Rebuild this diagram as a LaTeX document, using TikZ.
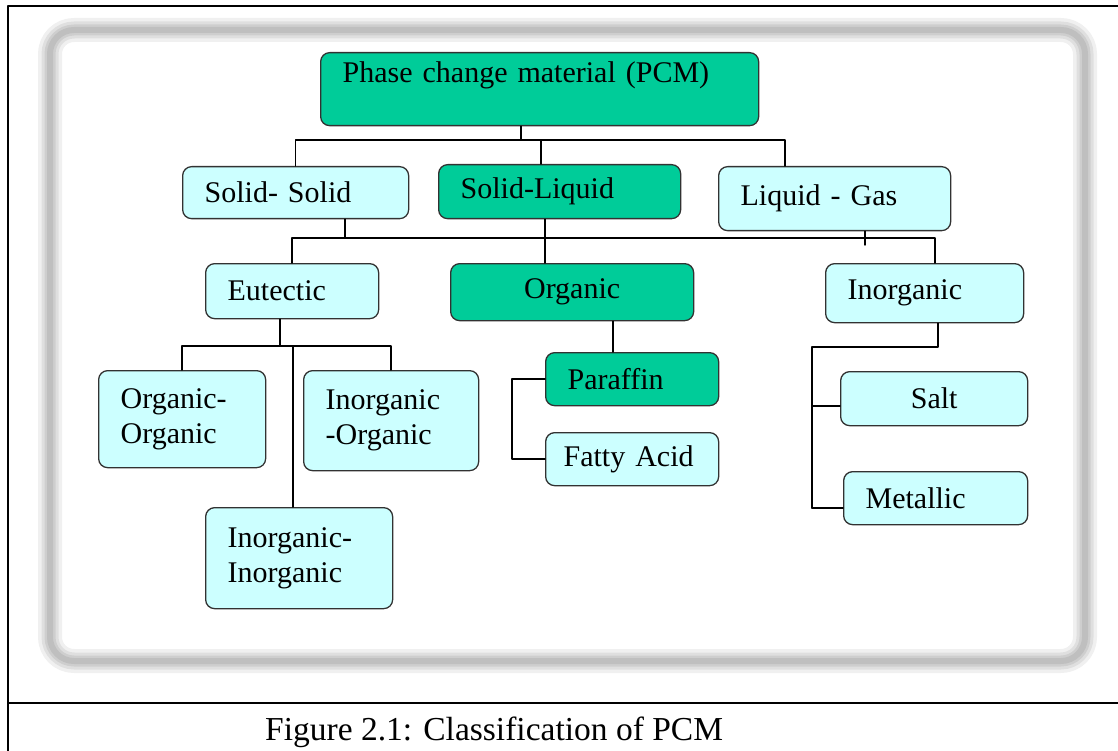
\documentclass[tikz,border=0pt]{standalone}
\usepackage{fontspec}
\setmainfont{Liberation Serif}
\usepackage{pgf,tikz}
\definecolor{pcmteal}{RGB}{0,204,153}
\definecolor{pcmcyan}{RGB}{204,255,255}
\definecolor{boxedge}{RGB}{50,50,50}

\begin{document}
\begin{tikzpicture}[line cap=round,line join=round,x=1pt,y=-1pt,
    box/.style={draw=boxedge,line width=1.3pt,rounded corners=9pt,anchor=north west,
      inner xsep=22pt,inner ysep=0pt,align=left,font=\fontsize{30}{35}\selectfont},
    dark/.style={box,fill=pcmteal},
    light/.style={box,fill=pcmcyan},
    link/.style={line width=1.5pt,black}]
  \useasboundingbox (0,0) rectangle (1118,751);

  % table frame and caption row
  \draw[line width=2pt] (8,751) -- (8,6) -- (1118,6);
  \draw[line width=2pt] (8,703) -- (1118,703);
  \node[anchor=west,inner sep=0pt,font=\fontsize{33.5}{40}\selectfont] (caption) at (265,732) {Figure 2.1: Classification of PCM};

  % soft shadow frame
  \foreach \w/\o in {24/0.12,17/0.15,11/0.18,6/0.2}{
    \draw[gray,line width=\w,opacity=\o,rounded corners=24pt] (50,30) rectangle (1085,661);
  }

  % boxes
  \node[dark,text width=394pt,text height=26pt,text depth=39pt,inner ysep=4pt] (pcm) at (320,52) {Phase change material (PCM)};

  \node[light,text width=182pt,minimum height=52pt] (ss) at (182,166) {Solid- Solid};
  \node[dark,text width=198pt,minimum height=54pt] (sl) at (438,164) {Solid-Liquid};
  \node[light,text width=188pt,minimum height=64pt] (lg) at (718,166) {Liquid - Gas};

  \node[light,text width=129pt,minimum height=55pt] (eut) at (205,263) {Eutectic};
  \node[dark,text width=199pt,minimum height=57pt,align=center] (org) at (450,263) {Organic};
  \node[light,text width=154pt,minimum height=59pt] (inorg) at (825,263) {Inorganic};

  \node[light,text width=123pt,minimum height=97pt] (oo) at (98,370) {Organic-\\Organic};
  \node[light,text width=131pt,minimum height=100pt] (io) at (303,370) {Inorganic\\-Organic};
  \node[light,text width=143pt,minimum height=101pt] (ii) at (205,507) {Inorganic-\\Inorganic};

  \node[dark,text width=129pt,minimum height=53pt] (par) at (545,352) {Paraffin};
  \node[light,text width=137pt,inner xsep=18pt,minimum height=53pt] (fa) at (545,432) {Fatty Acid};

  \node[light,text width=143pt,minimum height=54pt,align=center] (salt) at (840,371) {Salt};
  \node[light,text width=140pt,minimum height=53pt] (met) at (843,471) {Metallic};

  % bus points
  \coordinate (b1) at (521,140);
  \coordinate (b1m) at (541,140);
  \coordinate (b1r) at (785,140);
  \coordinate (b2s) at (345,238);
  \coordinate (b2m) at (545,238);
  \coordinate (b2r) at (935,238);
  \coordinate (gtick) at (865,245);
  \coordinate (b3) at (280,346);
  \coordinate (b3i) at (293,346);
  \coordinate (b4) at (613,336);
  \coordinate (b5) at (512,380);
  \coordinate (b6) at (938,347);
  \coordinate (b6l) at (812,347);
  \coordinate (b6s) at (812,406);
  \coordinate (b6m) at (812,508);

  % connectors
  \draw[link] (b1 |- pcm.south) -- (b1);
  \draw[link] (ss.north) |- (b1r) -- (b1r |- lg.north);
  \draw[link] (b1m) -- (b1m |- sl.north);

  \draw[link] (b2s |- ss.south) -- (b2s);
  \draw[link] (b2m |- sl.south) -- (b2m |- org.north);
  \draw[link] (gtick |- lg.south) -- (gtick);
  \draw[link] (eut.north) |- (b2r) -- (b2r |- inorg.north);

  \draw[link] (b3 |- eut.south) -- (b3);
  \draw[link] (oo.north) |- (b3) -| (io.north);
  \draw[link] (b3i) -- (b3i |- ii.north);

  \draw[link] (b4 |- org.south) -- (b4 |- par.north);
  \draw[link] (par.west) -- (b5 |- par.west) |- (fa.west);

  \draw[link] (b6 |- inorg.south) -- (b6) -- (b6l) -- (b6m);
  \draw[link] (b6s) -- (b6s -| salt.west);
  \draw[link] (b6m) -- (b6m -| met.west);
\end{tikzpicture}
\end{document}
